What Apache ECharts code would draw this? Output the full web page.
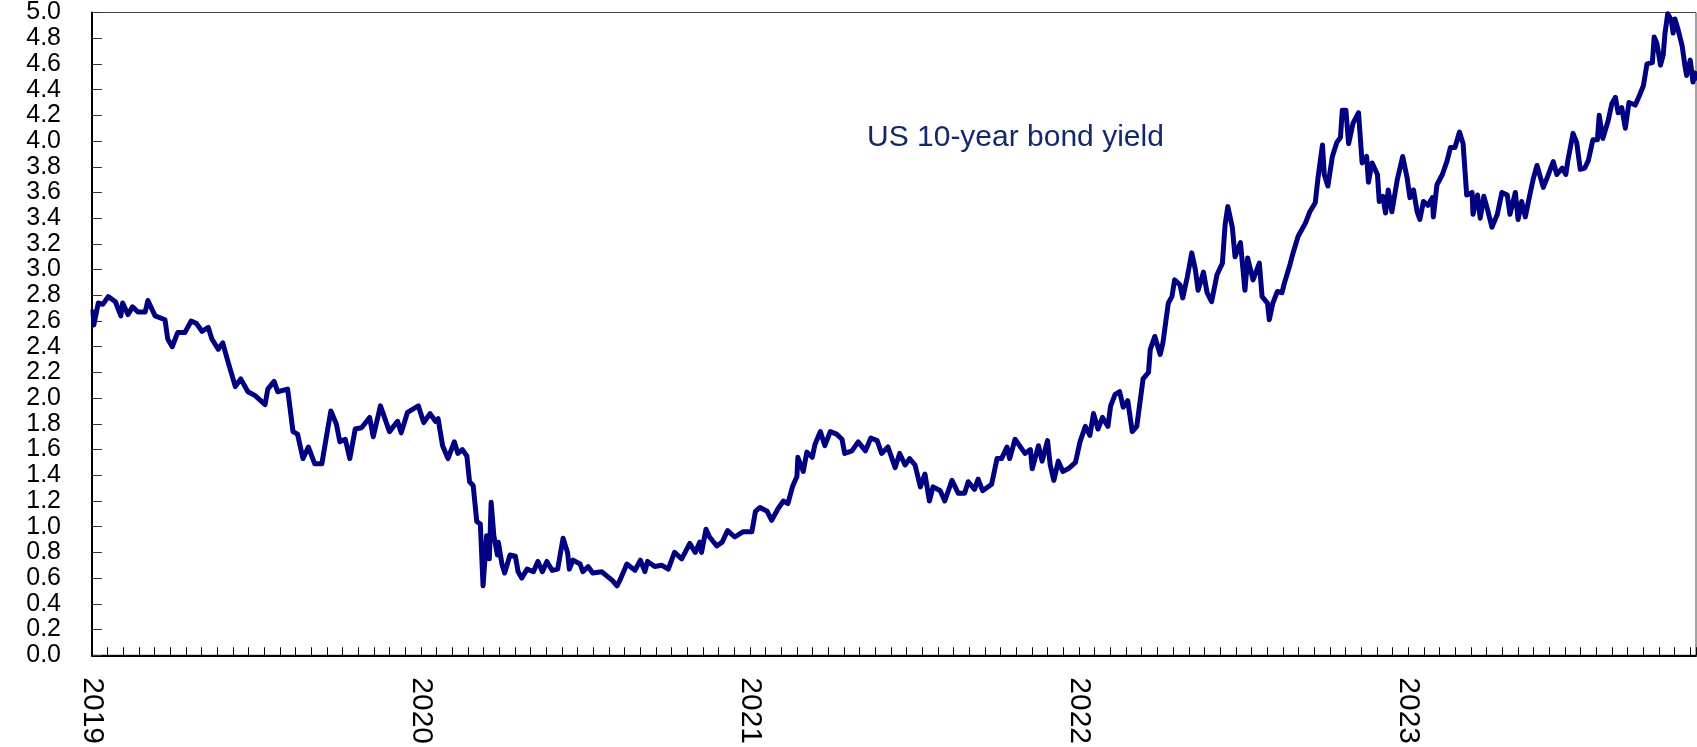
<!DOCTYPE html>
<html>
<head>
<meta charset="utf-8">
<script src="https://cdn.jsdelivr.net/npm/echarts@6/dist/echarts.min.js"></script>
<style>
  html, body { margin: 0; padding: 0; background: #fff; }
  #main { width: 1697px; height: 747px; }
</style>
</head>
<body>
<div id="main"></div>
<script>
// 每年的数据: [年内第几天, 收益率 %]
const y2019 = [
  [1, 2.69], [2, 2.57], [7, 2.74], [12, 2.73], [18, 2.79], [26, 2.75], [32, 2.64], [34, 2.74],
  [40, 2.65], [45, 2.71], [51, 2.67], [59, 2.67], [62, 2.76], [70, 2.64], [81, 2.61], [84, 2.46],
  [89, 2.40], [95, 2.51], [103, 2.51], [110, 2.60], [116, 2.58], [122, 2.52], [129, 2.55], [133, 2.46],
  [140, 2.38], [145, 2.43], [151, 2.28], [159, 2.09], [165, 2.15], [173, 2.05], [181, 2.02], [192, 1.95],
  [195, 2.07], [202, 2.13], [206, 2.05], [217, 2.07], [223, 1.74], [228, 1.72], [234, 1.53], [240, 1.62],
  [247, 1.49], [255, 1.49], [261, 1.74], [265, 1.90], [271, 1.80], [275, 1.66], [281, 1.68], [286, 1.53],
  [292, 1.76], [299, 1.77], [308, 1.85], [312, 1.70], [320, 1.94], [330, 1.74], [339, 1.82], [343, 1.73],
  [350, 1.89], [362, 1.94]
]
const y2020 = [
  [3, 1.81], [10, 1.88], [16, 1.82], [19, 1.84], [24, 1.63], [30, 1.53], [37, 1.66], [41, 1.57],
  [46, 1.60], [51, 1.55], [54, 1.35], [58, 1.32], [62, 1.04], [66, 1.02], [69, 0.54], [73, 0.93],
  [76, 0.75], [78, 1.19], [81, 0.93], [85, 0.78], [86, 0.88], [90, 0.71], [93, 0.64], [99, 0.78],
  [105, 0.77], [108, 0.65], [112, 0.60], [118, 0.67], [125, 0.65], [130, 0.73], [135, 0.65], [140, 0.73],
  [146, 0.66], [152, 0.67], [158, 0.91], [163, 0.80], [165, 0.67], [169, 0.74], [177, 0.71], [180, 0.65],
  [186, 0.69], [191, 0.64], [201, 0.65], [208, 0.61], [213, 0.58], [218, 0.54], [221, 0.58], [229, 0.71],
  [238, 0.66], [244, 0.74], [249, 0.65], [252, 0.73], [260, 0.69], [268, 0.70], [275, 0.67], [282, 0.80],
  [290, 0.75], [299, 0.87], [305, 0.80], [310, 0.88], [312, 0.80], [317, 0.98], [321, 0.92], [329, 0.85],
  [335, 0.88], [341, 0.97], [349, 0.92], [358, 0.96], [363, 0.96]
]
const y2021 = [
  [2, 0.96], [6, 1.12], [11, 1.15], [19, 1.12], [24, 1.05], [31, 1.14], [37, 1.20], [42, 1.18],
  [47, 1.31], [52, 1.39], [53, 1.54], [59, 1.43], [63, 1.58], [69, 1.54], [72, 1.64], [78, 1.74],
  [83, 1.63], [89, 1.74], [96, 1.72], [102, 1.68], [105, 1.57], [113, 1.59], [120, 1.66], [128, 1.59],
  [134, 1.69], [141, 1.67], [146, 1.57], [153, 1.62], [161, 1.46], [166, 1.57], [172, 1.48], [177, 1.53],
  [183, 1.48], [189, 1.31], [194, 1.41], [199, 1.20], [203, 1.31], [211, 1.28], [216, 1.20], [224, 1.36],
  [231, 1.26], [238, 1.26], [242, 1.35], [249, 1.29], [253, 1.37], [258, 1.28], [268, 1.33], [274, 1.53],
  [279, 1.53], [285, 1.62], [288, 1.53], [294, 1.68], [302, 1.60], [305, 1.57], [311, 1.60], [313, 1.45],
  [320, 1.63], [324, 1.51], [330, 1.67], [333, 1.48], [337, 1.36], [342, 1.51], [347, 1.43], [353, 1.45],
  [361, 1.50]
]
const y2022 = [
  [1, 1.66], [7, 1.78], [12, 1.71], [16, 1.88], [21, 1.76], [26, 1.85], [32, 1.78], [35, 1.94],
  [40, 2.03], [45, 2.05], [49, 1.93], [54, 1.98], [59, 1.74], [64, 1.78], [68, 1.99], [71, 2.15],
  [77, 2.20], [79, 2.38], [84, 2.48], [90, 2.34], [93, 2.43], [99, 2.74], [103, 2.79], [106, 2.92],
  [112, 2.88], [115, 2.78], [120, 2.94], [125, 3.13], [129, 3.00], [132, 2.84], [138, 2.98], [142, 2.82],
  [147, 2.75], [153, 2.96], [159, 3.05], [162, 3.35], [165, 3.49], [170, 3.33], [173, 3.10], [179, 3.21],
  [184, 2.84], [187, 3.09], [193, 2.92], [200, 3.05], [203, 2.79], [209, 2.74], [211, 2.61], [215, 2.74],
  [220, 2.83], [225, 2.82], [228, 2.90], [234, 3.04], [237, 3.12], [243, 3.26], [251, 3.36], [256, 3.45],
  [262, 3.52], [265, 3.71], [270, 3.97], [272, 3.74], [276, 3.65], [281, 3.88], [286, 3.99], [290, 4.03],
  [292, 4.24], [296, 4.24], [299, 3.98], [304, 4.14], [310, 4.22], [314, 3.83], [319, 3.88], [321, 3.68],
  [325, 3.83], [331, 3.74], [333, 3.53], [337, 3.57], [340, 3.44], [343, 3.62], [347, 3.45], [353, 3.70],
  [359, 3.88], [364, 3.71]
]
const y2023 = [
  [2, 3.56], [6, 3.62], [10, 3.45], [13, 3.39], [17, 3.53], [22, 3.50], [27, 3.56], [28, 3.41],
  [32, 3.66], [38, 3.74], [43, 3.84], [47, 3.95], [52, 3.95], [57, 4.07], [61, 3.98], [65, 3.58],
  [71, 3.60], [72, 3.43], [77, 3.58], [80, 3.40], [84, 3.57], [88, 3.47], [93, 3.33], [99, 3.43],
  [104, 3.60], [110, 3.58], [113, 3.43], [119, 3.60], [122, 3.39], [126, 3.53], [130, 3.41], [135, 3.58],
  [139, 3.71], [143, 3.81], [150, 3.64], [154, 3.71], [161, 3.84], [165, 3.74], [171, 3.79], [175, 3.74],
  [177, 3.84], [183, 4.06], [187, 3.99], [191, 3.78], [196, 3.79], [200, 3.85], [205, 4.01], [210, 4.01],
  [212, 4.20], [216, 4.02], [222, 4.16], [226, 4.29], [230, 4.34], [233, 4.22], [237, 4.26], [241, 4.10],
  [245, 4.30], [252, 4.28], [257, 4.36], [261, 4.43], [265, 4.60], [271, 4.61], [273, 4.81], [276, 4.76],
  [280, 4.59], [283, 4.67], [285, 4.84], [288, 4.99], [292, 4.94], [294, 4.84], [296, 4.95], [299, 4.88],
  [304, 4.74], [307, 4.59], [309, 4.51], [313, 4.63], [316, 4.46], [318, 4.53], [319, 4.47]
]

const years = [2019, 2020, 2021, 2022, 2023]
const yearData = [y2019, y2020, y2021, y2022, y2023]
const xEnd = 2023.875
const yMin = 0, yMax = 5, yStep = 0.2
const seriesName = 'US 10-year bond yield'

// 日期换算成小数年份
const lineData = []
years.forEach((yr, i) => {
  const len = (yr % 4 === 0) ? 366 : 365
  yearData[i].forEach(([d, v]) => lineData.push([yr + d / len, v]))
})

const myChart = echarts.init(document.getElementById('main'))
const font = 'Liberation Sans, Arial, sans-serif'

myChart.setOption({
  animation: false,
  grid: {
    left: 92, right: 1, top: 12, bottom: 90,
    show: true, borderColor: '#444', borderWidth: 1
  },
  xAxis: {
    type: 'value',
    min: years[0], max: xEnd, interval: 1,
    axisLine: { show: true, lineStyle: { color: '#000', width: 2 } },
    axisTick: { show: true, inside: true, length: 8, lineStyle: { color: '#000', width: 1 } },
    minorTick: { show: true, splitNumber: 21, length: 8, lineStyle: { color: '#000', width: 1 } },
    splitLine: { show: false },
    axisLabel: {
      rotate: -90, margin: 22, color: '#000', fontSize: 30, fontFamily: font,
      showMaxLabel: false,
      formatter: v => Number.isInteger(v) ? String(v) : ''
    }
  },
  yAxis: {
    type: 'value',
    min: yMin, max: yMax, interval: yStep,
    axisLine: { show: true, lineStyle: { color: '#000', width: 2 } },
    axisTick: { show: true, inside: true, length: 10, lineStyle: { color: '#333', width: 1 } },
    splitLine: { show: false },
    axisLabel: {
      margin: 31, color: '#000', fontSize: 25, fontFamily: font,
      showMinLabel: true, showMaxLabel: true, hideOverlap: false,
      formatter: v => v.toFixed(1)
    }
  },
  graphic: [{
    type: 'text',
    left: 867, top: 123,
    style: { text: seriesName, fontSize: 30, fontFamily: font, fill: '#12296b' }
  }],
  series: [{
    name: seriesName,
    type: 'line',
    data: lineData,
    symbol: 'none',
    lineStyle: { color: '#000080', width: 5, join: 'round' }
  }]
})
</script>
</body>
</html>
